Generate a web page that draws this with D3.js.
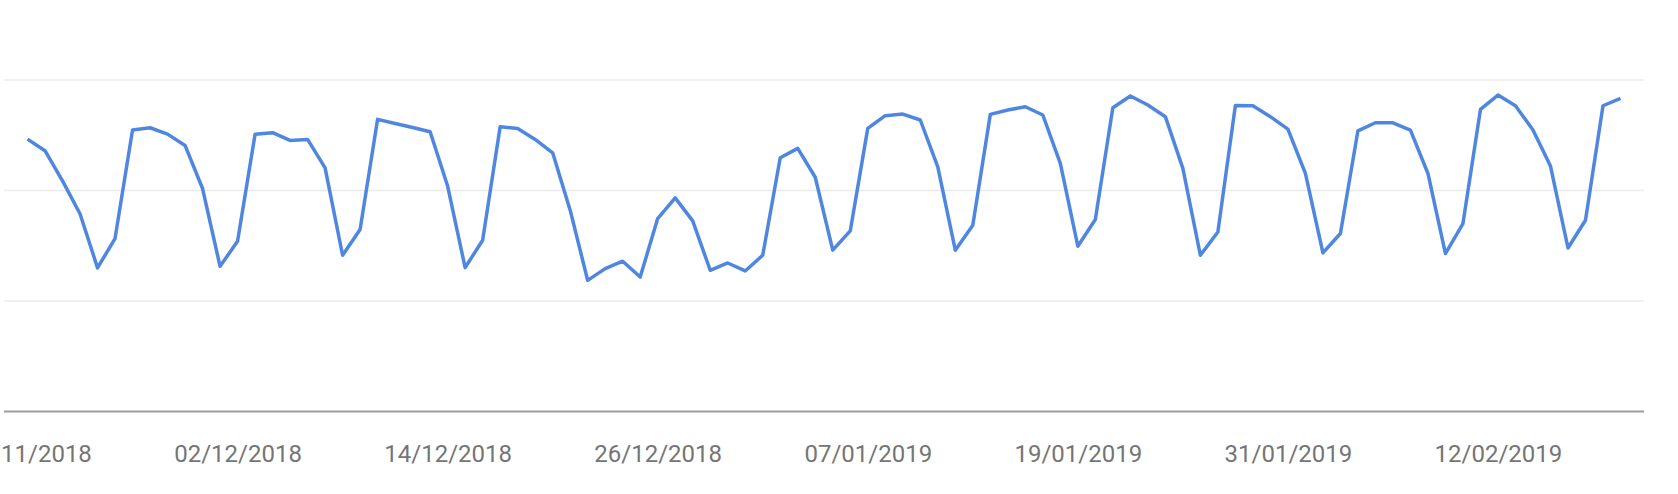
<!DOCTYPE html>
<html>
<head>
<meta charset="utf-8">
<script src="https://cdn.jsdelivr.net/npm/d3@7"></script>
<style>
  body { margin: 0; background: #fff; }
  svg { display: block; }
</style>
</head>
<body>
<div id="chart"></div>
<script>
// daily values, 20/11/2018 -> 19/02/2019
const firstDay = "20/11/2018";
const lastDay = "19/02/2019";
const values = [
  246.5, 236, 208.7, 179, 130, 156.5, 254.7, 256.8, 251, 240.8,
  201.8, 131.4, 154, 250.8, 252.3, 245.3, 246.2, 220.5, 141.4, 164.7,
  264.4, 260.7, 257, 253.2, 204, 130.2, 155, 257.7, 256.2, 246.2,
  234.1, 182.2, 118.7, 129.3, 136, 121.7, 174.6, 193.3, 172.5, 127.8,
  134.4, 127.2, 141.4, 229.6, 238.1, 212, 146, 163.4, 256.2, 267.7,
  269.2, 263.8, 221.4, 146, 168.6, 268.9, 272.8, 275.8, 268.3, 224.5,
  149.6, 173.7, 274.9, 285.5, 277.4, 266.8, 220, 141.4, 162.5, 277,
  276.7, 266.8, 255.6, 215.4, 143.5, 161.1, 254, 261.3, 261.3, 254.7,
  215.4, 142.9, 170.1, 273.4, 286.4, 276.7, 254.7, 222.1, 148, 173.1,
  276.7, 283.4
];
const tickLabels = ["20/11/2018", "02/12/2018", "14/12/2018", "26/12/2018",
  "07/01/2019", "19/01/2019", "31/01/2019", "12/02/2019"];
const gridValues = [100, 200, 300];

const width = 1678, height = 494;
const parse = d3.timeParse("%d/%m/%Y");
const fmt = d3.timeFormat("%d/%m/%Y");

const days = d3.timeDay.range(parse(firstDay), d3.timeDay.offset(parse(lastDay), 1));
const data = days.map((d, i) => ({ date: d, value: values[i] }));

const svg = d3.select("#chart").append("svg")
  .attr("width", width)
  .attr("height", height);

const x = d3.scaleTime()
  .domain([parse(firstDay), parse(lastDay)])
  .range([27.5, 1620.5]);

const y = d3.scaleLinear()
  .domain([0, 300])
  .range([411.5, 80]);

// grid
svg.append("g")
  .selectAll("line")
  .data(gridValues)
  .join("line")
  .attr("x1", 4)
  .attr("x2", 1644)
  .attr("y1", d => y(d))
  .attr("y2", d => y(d))
  .attr("stroke", "#ebebeb")
  .attr("stroke-width", 1.5);

// x axis
const xAxis = svg.append("g")
  .attr("transform", "translate(0," + y(0) + ")")
  .call(d3.axisBottom(x)
    .tickValues(tickLabels.map(parse))
    .tickFormat(fmt)
    .tickSize(0)
    .tickPadding(50));
xAxis.select(".domain").remove();
xAxis.append("line")
  .attr("x1", 4)
  .attr("x2", 1644)
  .attr("stroke", "#9e9e9e")
  .attr("stroke-width", 2);
xAxis.selectAll("text")
  .attr("dy", 0)
  .attr("fill", "#757575")
  .style("font-family", "Roboto, sans-serif")
  .style("font-size", "24px");

// line
const line = d3.line()
  .x(d => x(d.date))
  .y(d => y(d.value));

svg.append("path")
  .datum(data)
  .attr("fill", "none")
  .attr("stroke", "#4f87e0")
  .attr("stroke-width", 3.5)
  .attr("stroke-linejoin", "round")
  .attr("d", line);
</script>
</body>
</html>
